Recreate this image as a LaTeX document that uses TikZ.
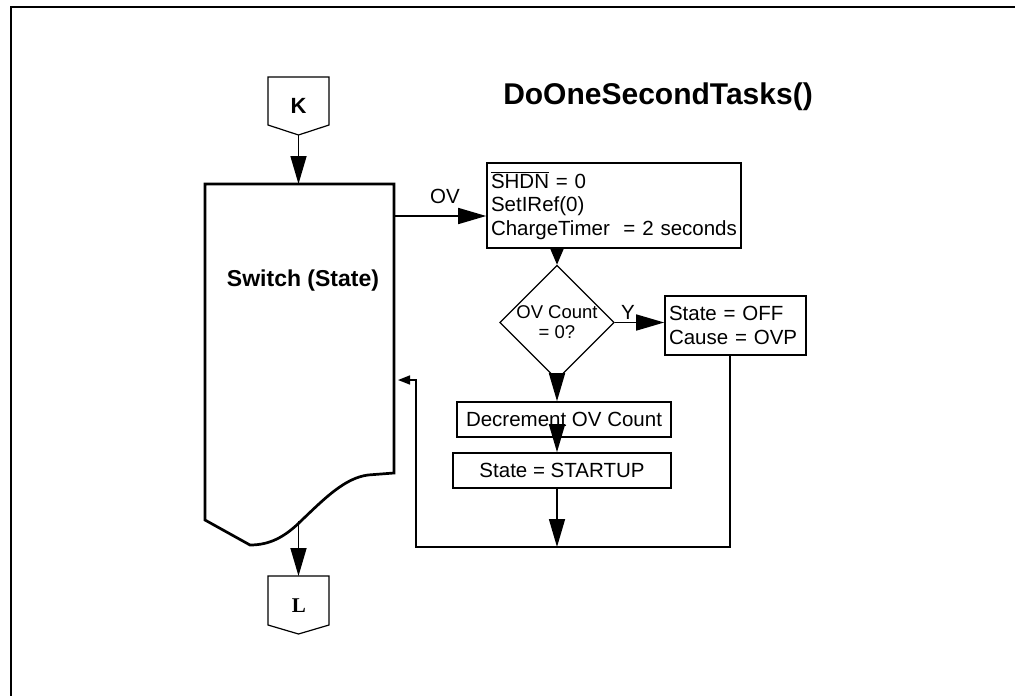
\documentclass[tikz,border=0pt]{standalone}
\usepackage{fontspec}
\setmainfont{Liberation Sans}
\newfontfamily\serifb{Liberation Serif}
\usetikzlibrary{arrows.meta,shapes.geometric}
\newcommand\ovl[1]{$\overline{\mbox{#1}}$}
\begin{document}
\begin{tikzpicture}[x=1pt,y=-1pt,
  box/.style={draw,line width=1.6pt,inner sep=0pt,font=\fontsize{20.5}{23.5}\selectfont},
  conn/.style={line width=1.6pt,-{Triangle[length=28pt,width=16pt]}},
  shortconn/.style={line width=1.6pt,-{Triangle[length=17pt,width=14pt]}},
  backconn/.style={line width=1.6pt,-{Triangle[length=12pt,width=9pt]}},
  pent/.style={line width=1.2pt},
  lbl/.style={font=\fontsize{20.5}{23.5}\selectfont, inner sep=0pt}]
\useasboundingbox (0,0) rectangle (1015,696);
\draw[line width=2.7pt] (11,696) -- (11,7) -- (1015,7);
% title
\node[font=\bfseries\fontsize{30}{36}\selectfont] (title) at (658,97) {DoOneSecondTasks()};
% K connector
\draw[pent] (268,77) -- (329,77) -- (329,125) -- (298.5,135) -- (268,125) -- cycle;
\node[font=\bfseries\fontsize{22}{26}\selectfont] (K) at (298.5,106) {K};
\coordinate (Ktip) at (298.5,135);
% switch
\draw[line width=2.7pt] (205,520) -- (205,184) -- (394,184) -- (394,473) -- (368,475)
  .. controls (345,478) and (325,498) .. (302,520)
  .. controls (285,537) and (270,545) .. (250,545) -- cycle;
\node[font=\bfseries\fontsize{23}{28}\selectfont] (sw) at (303,281) {Switch (State)};
\coordinate (swtop) at (298.5,184);
\coordinate (swR) at (394,216);
\coordinate (swbot) at (298.5,521);
\coordinate (swin) at (398,380);
% L connector
\draw[pent] (268,576) -- (329,576) -- (329,625) -- (298.5,634) -- (268,625) -- cycle;
\node[font=\serifb\bfseries\fontsize{21}{24}\selectfont] (L) at (299,606) {L};
\coordinate (Ltop) at (298.5,576);
% boxes
\node[box, minimum width=254pt, minimum height=85pt, text width=246pt, align=left, inner xsep=4pt] (b1) at (614,205.5)
  {\ovl{SHDN} = 0\\SetIRef(0)\\ChargeTimer\ \ = 2 seconds};
\node[draw, diamond, aspect=1, inner sep=0pt, minimum width=112pt, minimum height=111pt, line width=1.2pt,
  align=center, font=\fontsize{18.5}{20}\selectfont] (d) at (557,322.5) {OV Count\\= 0?};
\node[box, minimum width=141pt, minimum height=59pt, text width=133pt, align=left, inner xsep=4pt] (off) at (735.5,325.5)
  {State = OFF\\Cause = OVP};
\node[box, minimum width=214pt, minimum height=35pt] (dec) at (564,419.5) {Decrement OV Count};
\node[box, minimum width=218pt, minimum height=35pt] (st) at (562,470.5) {State = STARTUP};
\coordinate (lb) at (416,547);
% labels
\node[lbl] (ov) at (445,196) {OV};
\node[lbl] (Y) at (628,312) {Y};
% connectors
\draw[conn] (Ktip) -- (swtop);
\draw[conn] (swbot) -- (Ltop);
\draw[conn] (swR) -- (swR -| b1.west);
\draw[shortconn] (b1.south -| d.north) -- (d.north);
\draw[conn] (d.east) -- (d.east -| off.west);
\draw[conn] (d.south) -- (d.south |- dec.north);
\draw[conn] ([yshift=-5pt]dec.center -| d.south) -- (d.south |- st.north);
\draw[conn] (st.south -| d.south) -- (d.south |- lb);
\draw[backconn] ([xshift=-5.5pt]off.south) |- (lb) |- (swin);
\end{tikzpicture}
\end{document}
